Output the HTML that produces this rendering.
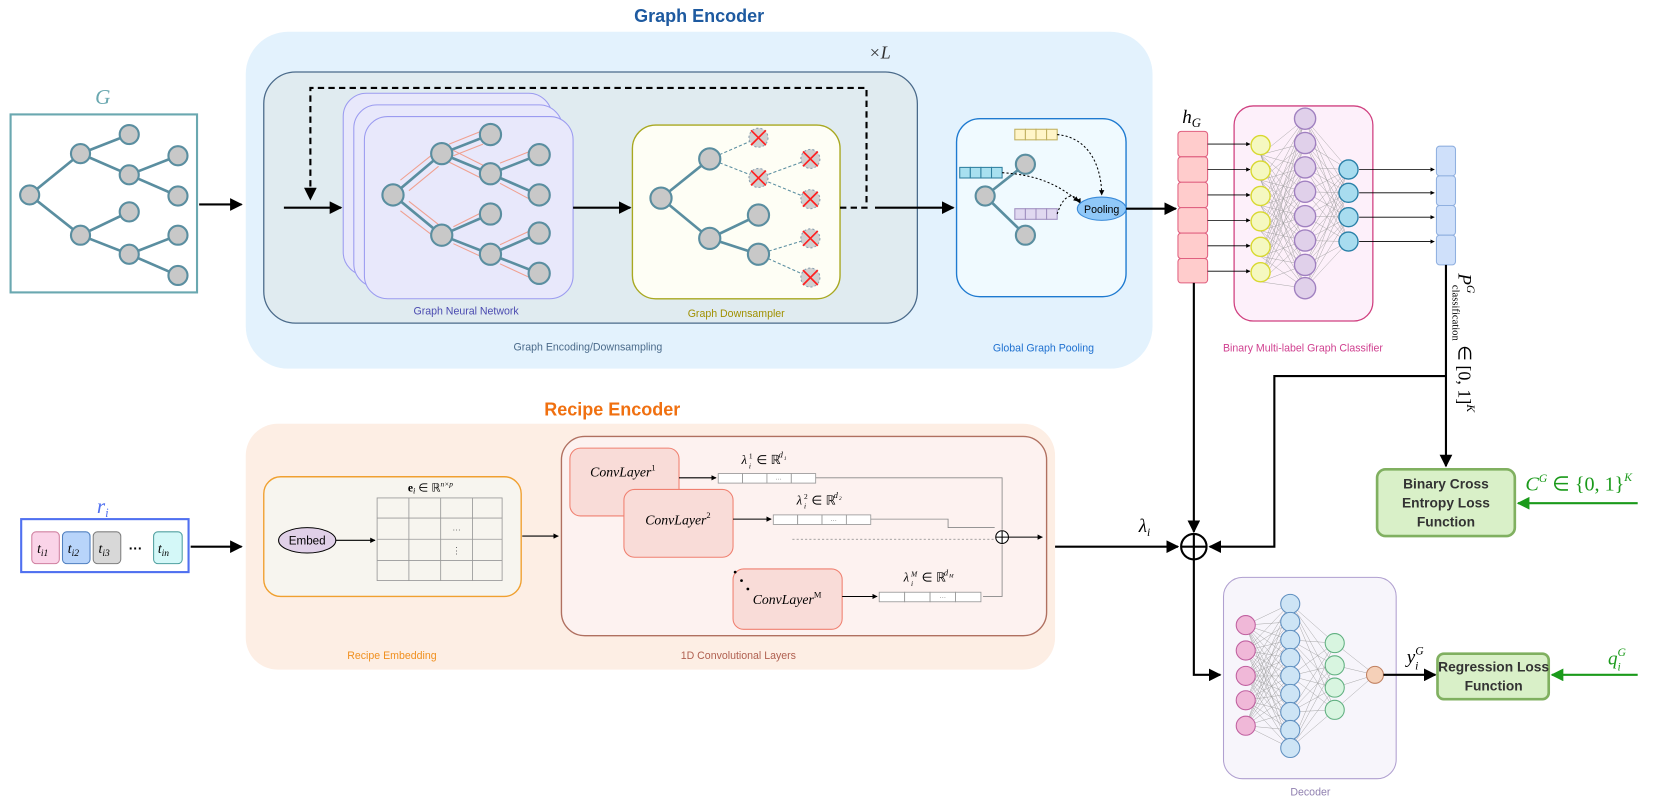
<!DOCTYPE html>
<html><head><meta charset="utf-8"><style>
body{margin:0;background:#fff}
svg{display:block}
.sans{font-family:"Liberation Sans",sans-serif}
.m{font-family:"Liberation Serif",serif;font-style:italic}
</style></head><body>
<svg width="1661" height="802" viewBox="0 0 1568 757" preserveAspectRatio="none" xmlns="http://www.w3.org/2000/svg">
<defs>
<marker id="a" viewBox="0 0 10 10" refX="9" refY="5" markerWidth="6" markerHeight="6" orient="auto"><path d="M0,0L10,5L0,10z" fill="#000"/></marker>
<marker id="as" viewBox="0 0 10 10" refX="9" refY="5" markerWidth="5" markerHeight="5" orient="auto"><path d="M0,0L10,5L0,10z" fill="#000"/></marker>
<marker id="ag" viewBox="0 0 10 10" refX="9" refY="5" markerWidth="6" markerHeight="6" orient="auto"><path d="M0,0L10,5L0,10z" fill="#1a9a1a"/></marker>
</defs>

<!-- Graph Encoder -->
<text x="660" y="21" text-anchor="middle" class="sans" font-weight="bold" font-size="17" fill="#1e5aa0">Graph Encoder</text>
<rect x="232" y="30" width="856" height="318" rx="40" fill="#e3f2fd"/>
<text x="820" y="55" class="m" font-size="17" fill="#333">×L</text>
<rect x="249" y="68" width="617" height="237" rx="30" fill="#e0ebf0" stroke="#4a6a8a" stroke-width="1.2"/>
<rect x="324" y="88" width="197" height="172" rx="22" fill="#e8e8fb" stroke="#9b9bf0"/>
<rect x="334" y="99" width="197" height="172" rx="22" fill="#e8e8fb" stroke="#9b9bf0"/>
<rect x="344" y="110" width="197" height="172" rx="22" fill="#e8e8fb" stroke="#9b9bf0"/>
<text x="440" y="297" text-anchor="middle" class="sans" font-size="10" fill="#4a4ab0">Graph Neural Network</text>
<rect x="597" y="118" width="196" height="164" rx="22" fill="#fefef5" stroke="#a8a820" stroke-width="1.3"/>
<text x="695" y="299" text-anchor="middle" class="sans" font-size="10" fill="#a09000">Graph Downsampler</text>
<text x="555" y="331" text-anchor="middle" class="sans" font-size="10" fill="#4a6a8a">Graph Encoding/Downsampling</text>
<path d="M793,196H818V83H293V188" fill="none" stroke="#000" stroke-width="2" stroke-dasharray="6,4" marker-end="url(#a)"/>
<line x1="268" y1="196" x2="322" y2="196" stroke="#000" stroke-width="2" marker-end="url(#a)"/>
<line x1="541" y1="196" x2="595" y2="196" stroke="#000" stroke-width="2" marker-end="url(#a)"/>
<line x1="826" y1="196" x2="900" y2="196" stroke="#000" stroke-width="2" marker-end="url(#a)"/>

<!-- GNN tree -->
<g stroke="#5a8ea0" stroke-width="2.5">
<line x1="371" y1="184" x2="417" y2="145"/><line x1="371" y1="184" x2="417" y2="222"/>
<line x1="417" y1="145" x2="463" y2="127"/><line x1="417" y1="145" x2="463" y2="164"/>
<line x1="463" y1="164" x2="509" y2="146"/><line x1="463" y1="164" x2="509" y2="184"/>
<line x1="417" y1="222" x2="463" y2="202"/><line x1="417" y1="222" x2="463" y2="240"/>
<line x1="463" y1="240" x2="509" y2="220"/><line x1="463" y1="240" x2="509" y2="258"/>
</g>
<g stroke="#f0a090" stroke-width="1">
<line x1="378" y1="170" x2="408" y2="146"/><line x1="386" y1="180" x2="414" y2="157"/>
<line x1="378" y1="199" x2="408" y2="222"/><line x1="386" y1="190" x2="414" y2="212"/>
<line x1="424" y1="136" x2="454" y2="124"/><line x1="428" y1="147" x2="456" y2="136"/>
<line x1="428" y1="142" x2="456" y2="156"/><line x1="424" y1="153" x2="454" y2="168"/>
<line x1="472" y1="154" x2="500" y2="143"/><line x1="472" y1="173" x2="500" y2="188"/>
<line x1="428" y1="214" x2="456" y2="200"/><line x1="428" y1="230" x2="456" y2="243"/>
<line x1="472" y1="231" x2="500" y2="218"/><line x1="472" y1="249" x2="500" y2="262"/>
</g>
<g fill="#c8c8c8" stroke="#5a8ea0" stroke-width="2">
<circle cx="371" cy="184" r="10"/><circle cx="417" cy="145" r="10"/><circle cx="417" cy="222" r="10"/>
<circle cx="463" cy="127" r="10"/><circle cx="463" cy="164" r="10"/><circle cx="509" cy="146" r="10"/><circle cx="509" cy="184" r="10"/>
<circle cx="463" cy="202" r="10"/><circle cx="463" cy="240" r="10"/><circle cx="509" cy="220" r="10"/><circle cx="509" cy="258" r="10"/>
</g>

<!-- Downsampler tree -->
<g stroke="#5a8ea0" stroke-width="2.5">
<line x1="624" y1="187" x2="670" y2="150"/><line x1="624" y1="187" x2="670" y2="225"/>
<line x1="670" y1="225" x2="716" y2="203"/><line x1="670" y1="225" x2="716" y2="240"/>
</g>
<g stroke="#5a8ea0" stroke-width="1" stroke-dasharray="3,2">
<line x1="670" y1="150" x2="716" y2="130"/><line x1="670" y1="150" x2="716" y2="168"/>
<line x1="716" y1="168" x2="765" y2="150"/><line x1="716" y1="168" x2="765" y2="188"/>
<line x1="716" y1="240" x2="765" y2="225"/><line x1="716" y1="240" x2="765" y2="262"/>
</g>
<g fill="#c8c8c8" stroke="#5a8ea0" stroke-width="2">
<circle cx="624" cy="187" r="10"/><circle cx="670" cy="150" r="10"/><circle cx="670" cy="225" r="10"/>
<circle cx="716" cy="203" r="10"/><circle cx="716" cy="240" r="10"/>
</g>
<g fill="#d0d0d0" stroke="#8aa0b0" stroke-width="1" stroke-dasharray="2,2">
<circle cx="716" cy="130" r="9"/><circle cx="716" cy="168" r="9"/><circle cx="765" cy="150" r="9"/><circle cx="765" cy="188" r="9"/><circle cx="765" cy="225" r="9"/><circle cx="765" cy="262" r="9"/>
</g>
<g stroke="#ff2020" stroke-width="1.6">
<path d="M709,123L723,137M723,123L709,137"/><path d="M709,161L723,175M723,161L709,175"/>
<path d="M758,143L772,157M772,143L758,157"/><path d="M758,181L772,195M772,181L758,195"/>
<path d="M758,218L772,232M772,218L758,232"/><path d="M758,255L772,269M772,255L758,269"/>
</g>

<!-- Pooling -->
<rect x="903" y="112" width="160" height="168" rx="22" fill="#f0faff" stroke="#1e7ad0" stroke-width="1.3"/>
<text x="985" y="332" text-anchor="middle" class="sans" font-size="10" fill="#1e70d0">Global Graph Pooling</text>
<g stroke="#5a8ea0" stroke-width="2.5"><line x1="930" y1="185" x2="968" y2="155"/><line x1="930" y1="185" x2="968" y2="222"/></g>
<g fill="#c8c8c8" stroke="#5a8ea0" stroke-width="2"><circle cx="930" cy="185" r="9"/><circle cx="968" cy="155" r="9"/><circle cx="968" cy="222" r="9"/></g>
<g stroke="#c0b060" fill="#fff5c8"><rect x="958" y="122" width="10" height="10"/><rect x="968" y="122" width="10" height="10"/><rect x="978" y="122" width="10" height="10"/><rect x="988" y="122" width="10" height="10"/></g>
<g stroke="#3080a0" fill="#a8e0f0"><rect x="906" y="158" width="10" height="10"/><rect x="916" y="158" width="10" height="10"/><rect x="926" y="158" width="10" height="10"/><rect x="936" y="158" width="10" height="10"/></g>
<g stroke="#a090c0" fill="#e0d8f0"><rect x="958" y="197" width="10" height="10"/><rect x="968" y="197" width="10" height="10"/><rect x="978" y="197" width="10" height="10"/><rect x="988" y="197" width="10" height="10"/></g>
<g fill="none" stroke="#000" stroke-width="1" stroke-dasharray="2,2">
<path d="M998,127C1030,130 1040,160 1040,184" marker-end="url(#as)"/>
<path d="M946,163C980,165 1000,175 1018,190" marker-end="url(#as)"/>
<path d="M998,202C1005,180 1015,183 1020,192" marker-end="url(#as)"/>
</g>
<ellipse cx="1040" cy="197" rx="23" ry="11" fill="#90c8f8" stroke="#3a8ad8"/>
<text x="1040" y="201" text-anchor="middle" class="sans" font-size="10" fill="#000">Pooling</text>
<line x1="1063" y1="197" x2="1110" y2="197" stroke="#000" stroke-width="2" marker-end="url(#a)"/>

<!-- G -->
<text x="97" y="98" text-anchor="middle" class="m" font-size="20" fill="#6aa8b0">G</text>
<rect x="10" y="108" width="176" height="168" fill="#fff" stroke="#6aa8b0" stroke-width="2"/>
<g stroke="#5a8ea0" stroke-width="2.5">
<line x1="28" y1="184" x2="76" y2="145"/><line x1="28" y1="184" x2="76" y2="222"/>
<line x1="76" y1="145" x2="122" y2="127"/><line x1="76" y1="145" x2="122" y2="165"/>
<line x1="122" y1="165" x2="168" y2="147"/><line x1="122" y1="165" x2="168" y2="185"/>
<line x1="76" y1="222" x2="122" y2="200"/><line x1="76" y1="222" x2="122" y2="240"/>
<line x1="122" y1="240" x2="168" y2="222"/><line x1="122" y1="240" x2="168" y2="260"/>
</g>
<g fill="#c8c8c8" stroke="#5a8ea0" stroke-width="2">
<circle cx="28" cy="184" r="9"/><circle cx="76" cy="145" r="9"/><circle cx="76" cy="222" r="9"/>
<circle cx="122" cy="127" r="9"/><circle cx="122" cy="165" r="9"/><circle cx="168" cy="147" r="9"/><circle cx="168" cy="185" r="9"/>
<circle cx="122" cy="200" r="9"/><circle cx="122" cy="240" r="9"/><circle cx="168" cy="222" r="9"/><circle cx="168" cy="260" r="9"/>
</g>
<line x1="188" y1="193" x2="228" y2="193" stroke="#000" stroke-width="2" marker-end="url(#a)"/>

<!-- hG -->
<text x="1116" y="116" class="m" font-size="18" fill="#000">h<tspan font-size="12" dy="4">G</tspan></text>
<g fill="#ffcccc" stroke="#e06080">
<rect x="1112" y="124" width="28" height="24" rx="3"/><rect x="1112" y="148" width="28" height="24" rx="3"/><rect x="1112" y="172" width="28" height="24" rx="3"/>
<rect x="1112" y="196" width="28" height="24" rx="3"/><rect x="1112" y="220" width="28" height="24" rx="3"/><rect x="1112" y="244" width="28" height="23" rx="3"/>
</g>

<!-- classifier -->
<rect x="1165" y="100" width="131" height="203" rx="18" fill="#fdf0fa" stroke="#d04080" stroke-width="1.2"/>
<text x="1230" y="332" text-anchor="middle" class="sans" font-size="10" fill="#d04090">Binary Multi-label Graph Classifier</text>
<g stroke="#999" stroke-width="0.4">
<path d="M1190,146L1232,112M1190,146L1232,135M1190,146L1232,158M1190,146L1232,181M1190,146L1232,204M1190,146L1232,227M1190,146L1232,250M1190,146L1232,272
M1190,170L1232,112M1190,170L1232,135M1190,170L1232,158M1190,170L1232,181M1190,170L1232,204M1190,170L1232,227M1190,170L1232,250M1190,170L1232,272
M1190,194L1232,112M1190,194L1232,135M1190,194L1232,158M1190,194L1232,181M1190,194L1232,204M1190,194L1232,227M1190,194L1232,250M1190,194L1232,272
M1190,218L1232,112M1190,218L1232,135M1190,218L1232,158M1190,218L1232,181M1190,218L1232,204M1190,218L1232,227M1190,218L1232,250M1190,218L1232,272
M1190,242L1232,112M1190,242L1232,135M1190,242L1232,158M1190,242L1232,181M1190,242L1232,204M1190,242L1232,227M1190,242L1232,250M1190,242L1232,272
M1190,266L1232,112M1190,266L1232,135M1190,266L1232,158M1190,266L1232,181M1190,266L1232,204M1190,266L1232,227M1190,266L1232,250M1190,266L1232,272
M1232,112L1273,160M1232,112L1273,182M1232,112L1273,205M1232,112L1273,228
M1232,135L1273,160M1232,135L1273,182M1232,135L1273,205M1232,135L1273,228
M1232,158L1273,160M1232,158L1273,182M1232,158L1273,205M1232,158L1273,228
M1232,181L1273,160M1232,181L1273,182M1232,181L1273,205M1232,181L1273,228
M1232,204L1273,160M1232,204L1273,182M1232,204L1273,205M1232,204L1273,228
M1232,227L1273,160M1232,227L1273,182M1232,227L1273,205M1232,227L1273,228
M1232,250L1273,160M1232,250L1273,182M1232,250L1273,205M1232,250L1273,228
M1232,272L1273,160M1232,272L1273,182M1232,272L1273,205M1232,272L1273,228"/>
</g>
<g stroke="#000" stroke-width="0.8" marker-end="url(#as)">
<line x1="1140" y1="136" x2="1180" y2="136"/><line x1="1140" y1="160" x2="1180" y2="160"/><line x1="1140" y1="184" x2="1180" y2="184"/>
<line x1="1140" y1="208" x2="1180" y2="208"/><line x1="1140" y1="232" x2="1180" y2="232"/><line x1="1140" y1="256" x2="1180" y2="256"/>
<line x1="1283" y1="160" x2="1354" y2="160"/><line x1="1283" y1="182" x2="1354" y2="182"/><line x1="1283" y1="205" x2="1354" y2="205"/><line x1="1283" y1="228" x2="1354" y2="228"/>
</g>
<g fill="#f5f8c0" stroke="#d8d830" stroke-width="1.3">
<circle cx="1190" cy="137" r="9"/><circle cx="1190" cy="161" r="9"/><circle cx="1190" cy="185" r="9"/><circle cx="1190" cy="209" r="9"/><circle cx="1190" cy="233" r="9"/><circle cx="1190" cy="257" r="9"/>
</g>
<g fill="#e0d0ea" stroke="#a080c0" stroke-width="1.3">
<circle cx="1232" cy="112" r="10"/><circle cx="1232" cy="135" r="10"/><circle cx="1232" cy="158" r="10"/><circle cx="1232" cy="181" r="10"/><circle cx="1232" cy="204" r="10"/><circle cx="1232" cy="227" r="10"/><circle cx="1232" cy="250" r="10"/><circle cx="1232" cy="272" r="10"/>
</g>
<g fill="#a8dcef" stroke="#2a80a8" stroke-width="1.3">
<circle cx="1273" cy="160" r="9"/><circle cx="1273" cy="182" r="9"/><circle cx="1273" cy="205" r="9"/><circle cx="1273" cy="228" r="9"/>
</g>
<g fill="#cfe0fa" stroke="#90b0e0">
<rect x="1356" y="138" width="18" height="28" rx="3"/><rect x="1356" y="166" width="18" height="28" rx="3"/><rect x="1356" y="194" width="18" height="28" rx="3"/><rect x="1356" y="222" width="18" height="28" rx="3"/>
</g>
<text transform="translate(1377,258) rotate(90)" class="m" font-size="18" fill="#000">P<tspan font-size="11" dy="-8">G</tspan><tspan font-size="10" dy="14" font-style="normal" dx="-8">classification</tspan><tspan font-size="17" dy="-6" font-style="normal"> ∈ [0, 1]</tspan><tspan font-size="11" dy="-8">K</tspan></text>

<!-- right connectors -->
<line x1="1365" y1="250" x2="1365" y2="440" stroke="#000" stroke-width="2" marker-end="url(#a)"/>
<path d="M1365,355H1203V516H1142" fill="none" stroke="#000" stroke-width="2" marker-end="url(#a)"/>
<line x1="1127" y1="267" x2="1127" y2="502" stroke="#000" stroke-width="2" marker-end="url(#a)"/>
<circle cx="1127" cy="516" r="12" fill="#fff" stroke="#000" stroke-width="2"/>
<path d="M1115,516H1139M1127,504V528" stroke="#000" stroke-width="2"/>
<path d="M1127,528V637H1152" fill="none" stroke="#000" stroke-width="2" marker-end="url(#a)"/>

<rect x="1300" y="443" width="130" height="63" rx="8" fill="#d9f0c8" stroke="#80b060" stroke-width="2.5"/>
<text text-anchor="middle" class="sans" font-weight="bold" font-size="13" fill="#333"><tspan x="1365" y="461">Binary Cross</tspan><tspan x="1365" y="479">Entropy Loss</tspan><tspan x="1365" y="497">Function</tspan></text>
<text x="1440" y="463" class="m" font-size="19" fill="#1a9a1a">C<tspan font-size="11" dy="-8">G</tspan><tspan font-style="normal" dy="8"> ∈ {0, 1}</tspan><tspan font-size="11" dy="-9">K</tspan></text>
<line x1="1546" y1="475" x2="1433" y2="475" stroke="#1a9a1a" stroke-width="2" marker-end="url(#ag)"/>

<!-- Recipe Encoder -->
<text x="578" y="392" text-anchor="middle" class="sans" font-weight="bold" font-size="17" fill="#f07010">Recipe Encoder</text>
<rect x="232" y="400" width="764" height="232" rx="30" fill="#fdeee4"/>
<rect x="249" y="450" width="243" height="113" rx="16" fill="#f7f5ef" stroke="#f0a030" stroke-width="1.3"/>
<text x="370" y="622" text-anchor="middle" class="sans" font-size="10" fill="#f09020">Recipe Embedding</text>
<ellipse cx="290" cy="510" rx="27" ry="12" fill="#e0d0e8" stroke="#000"/>
<text x="290" y="514" text-anchor="middle" class="sans" font-size="11">Embed</text>
<line x1="317" y1="510" x2="354" y2="510" stroke="#000" marker-end="url(#as)"/>
<g stroke="#999" fill="none" stroke-width="0.8">
<rect x="356" y="470" width="118" height="78"/>
<path d="M386,470V548M416,470V548M446,470V548M356,489H474M356,509H474M356,529H474"/>
</g>
<text x="431" y="503" text-anchor="middle" font-size="8" fill="#666">···</text>
<text x="431" y="523" text-anchor="middle" font-size="9" fill="#666">⋮</text>
<text x="385" y="464" class="m" font-size="11" fill="#000"><tspan font-weight="bold" font-style="normal">e</tspan><tspan font-size="8" dy="2">i</tspan><tspan dy="-2" font-style="normal"> ∈ ℝ</tspan><tspan font-size="7" dy="-5">n×p</tspan></text>
<line x1="493" y1="506" x2="527" y2="506" stroke="#000" stroke-width="1" marker-end="url(#as)"/>

<rect x="530" y="412" width="458" height="188" rx="22" fill="#fdf2f0" stroke="#b07060" stroke-width="1.3"/>
<text x="697" y="622" text-anchor="middle" class="sans" font-size="10" fill="#b06050">1D Convolutional Layers</text>
<rect x="538" y="423" width="103" height="64" rx="10" fill="#f9dcd8" stroke="#f08070"/>
<text x="588" y="450" text-anchor="middle" class="m" font-size="13">ConvLayer<tspan font-size="8" dy="-6" font-style="normal">1</tspan></text>
<rect x="589" y="462" width="103" height="64" rx="10" fill="#f9dcd8" stroke="#f08070"/>
<text x="640" y="495" text-anchor="middle" class="m" font-size="13">ConvLayer<tspan font-size="8" dy="-6" font-style="normal">2</tspan></text>
<rect x="692" y="537" width="103" height="57" rx="10" fill="#f9dcd8" stroke="#f08070"/>
<text x="743" y="570" text-anchor="middle" class="m" font-size="13">ConvLayer<tspan font-size="8" dy="-6" font-style="normal">M</tspan></text>
<circle cx="694" cy="540" r="1.3"/><circle cx="700" cy="548" r="1.3"/><circle cx="706" cy="556" r="1.3"/>

<g stroke="#000" stroke-width="1" marker-end="url(#as)">
<line x1="641" y1="451" x2="676" y2="451"/><line x1="692" y1="490" x2="728" y2="490"/><line x1="795" y1="563" x2="828" y2="563"/>
</g>
<g stroke="#999" fill="#fff" stroke-width="0.8">
<rect x="678" y="447" width="23" height="9"/><rect x="701" y="447" width="23" height="9"/><rect x="724" y="447" width="23" height="9"/><rect x="747" y="447" width="23" height="9"/>
<rect x="730" y="486" width="23" height="9"/><rect x="753" y="486" width="23" height="9"/><rect x="776" y="486" width="23" height="9"/><rect x="799" y="486" width="23" height="9"/>
<rect x="830" y="559" width="24" height="9"/><rect x="854" y="559" width="24" height="9"/><rect x="878" y="559" width="24" height="9"/><rect x="902" y="559" width="24" height="9"/>
</g>
<g font-size="6" fill="#666" text-anchor="middle"><text x="735" y="454">···</text><text x="787" y="493">···</text><text x="890" y="566">···</text></g>
<g class="m" font-size="12" fill="#000">
<text x="700" y="438">λ</text><text x="707" y="433" font-size="7" font-style="normal">1</text><text x="707" y="442" font-size="7">i</text>
<text x="714" y="438" font-style="normal">∈ ℝ</text><text x="735" y="432" font-size="8">d</text><text x="740" y="434" font-size="5">1</text>
<text x="752" y="476">λ</text><text x="759" y="471" font-size="7" font-style="normal">2</text><text x="759" y="480" font-size="7">i</text>
<text x="766" y="476" font-style="normal">∈ ℝ</text><text x="787" y="470" font-size="8">d</text><text x="792" y="472" font-size="5">2</text>
<text x="853" y="549">λ</text><text x="860" y="544" font-size="7">M</text><text x="860" y="553" font-size="7">i</text>
<text x="870" y="549" font-style="normal">∈ ℝ</text><text x="891" y="543" font-size="8">d</text><text x="896" y="545" font-size="5">M</text>
</g>
<g fill="none" stroke="#888" stroke-width="0.8">
<path d="M770,451H946V500"/><path d="M822,490H895V498H939"/><path d="M928,563H946V514"/>
</g>
<line x1="748" y1="509" x2="938" y2="509" stroke="#888" stroke-width="0.8" stroke-dasharray="2,2"/>
<circle cx="946" cy="507" r="6" fill="#fff" stroke="#000"/>
<path d="M940,507H952M946,501V513" stroke="#000"/>
<line x1="952" y1="507" x2="984" y2="507" stroke="#000" stroke-width="1" marker-end="url(#as)"/>

<line x1="996" y1="516" x2="1112" y2="516" stroke="#000" stroke-width="2" marker-end="url(#a)"/>
<text x="1075" y="502" class="m" font-size="18">λ<tspan font-size="11" dy="4">i</tspan></text>

<!-- r_i -->
<text x="97" y="484" text-anchor="middle" class="m" font-size="20" fill="#5070f0">r<tspan font-size="12" dy="4">i</tspan></text>
<rect x="20" y="490" width="158" height="50" fill="#fff" stroke="#5070f0" stroke-width="2"/>
<rect x="30" y="502" width="26" height="30" rx="4" fill="#fad4e8" stroke="#d080a0"/>
<rect x="59" y="502" width="26" height="30" rx="4" fill="#b8d4fa" stroke="#5080c0"/>
<rect x="88" y="502" width="26" height="30" rx="4" fill="#d8d8d8" stroke="#808080"/>
<rect x="145" y="502" width="27" height="30" rx="4" fill="#d4f8f8" stroke="#50a0a0"/>
<g class="m" font-size="13"><text x="35" y="522">t<tspan font-size="9" dy="3">i1</tspan></text><text x="64" y="522">t<tspan font-size="9" dy="3">i2</tspan></text><text x="93" y="522">t<tspan font-size="9" dy="3">i3</tspan></text><text x="149" y="522">t<tspan font-size="9" dy="3">in</tspan></text></g>
<text x="128" y="522" text-anchor="middle" class="sans" font-weight="bold" font-size="13">···</text>
<line x1="180" y1="516" x2="228" y2="516" stroke="#000" stroke-width="2" marker-end="url(#a)"/>

<!-- Decoder -->
<rect x="1155" y="545" width="163" height="190" rx="18" fill="#f7f5fb" stroke="#b0a0d0"/>
<text x="1237" y="751" text-anchor="middle" class="sans" font-size="10" fill="#9080b0">Decoder</text>
<g stroke="#999" stroke-width="0.4">
<path d="M1176,590L1218,570M1176,590L1218,587M1176,590L1218,604M1176,590L1218,621M1176,590L1218,638M1176,590L1218,655M1176,590L1218,672M1176,590L1218,689M1176,590L1218,706
M1176,614L1218,570M1176,614L1218,587M1176,614L1218,604M1176,614L1218,621M1176,614L1218,638M1176,614L1218,655M1176,614L1218,672M1176,614L1218,689M1176,614L1218,706
M1176,638L1218,570M1176,638L1218,587M1176,638L1218,604M1176,638L1218,621M1176,638L1218,638M1176,638L1218,655M1176,638L1218,672M1176,638L1218,689M1176,638L1218,706
M1176,661L1218,570M1176,661L1218,587M1176,661L1218,604M1176,661L1218,621M1176,661L1218,638M1176,661L1218,655M1176,661L1218,672M1176,661L1218,689M1176,661L1218,706
M1176,685L1218,570M1176,685L1218,587M1176,685L1218,604M1176,685L1218,621M1176,685L1218,638M1176,685L1218,655M1176,685L1218,672M1176,685L1218,689M1176,685L1218,706
M1218,570L1260,607M1218,570L1260,628M1218,570L1260,649M1218,570L1260,670
M1218,604L1260,607M1218,604L1260,628M1218,604L1260,649M1218,604L1260,670
M1218,638L1260,607M1218,638L1260,628M1218,638L1260,649M1218,638L1260,670
M1218,672L1260,607M1218,672L1260,628M1218,672L1260,649M1218,672L1260,670
M1218,706L1260,607M1218,706L1260,628M1218,706L1260,649M1218,706L1260,670
M1260,607L1298,637M1260,628L1298,637M1260,649L1298,637M1260,670L1298,637"/>
</g>
<g fill="#f0b8d8" stroke="#c060a0"><circle cx="1176" cy="590" r="9"/><circle cx="1176" cy="614" r="9"/><circle cx="1176" cy="638" r="9"/><circle cx="1176" cy="661" r="9"/><circle cx="1176" cy="685" r="9"/></g>
<g fill="#cde4f5" stroke="#6090c0"><circle cx="1218" cy="570" r="9"/><circle cx="1218" cy="587" r="9"/><circle cx="1218" cy="604" r="9"/><circle cx="1218" cy="621" r="9"/><circle cx="1218" cy="638" r="9"/><circle cx="1218" cy="655" r="9"/><circle cx="1218" cy="672" r="9"/><circle cx="1218" cy="689" r="9"/><circle cx="1218" cy="706" r="9"/></g>
<g fill="#d8f5e0" stroke="#60b080"><circle cx="1260" cy="607" r="9"/><circle cx="1260" cy="628" r="9"/><circle cx="1260" cy="649" r="9"/><circle cx="1260" cy="670" r="9"/></g>
<circle cx="1298" cy="637" r="8" fill="#f5d0b8" stroke="#c08060"/>
<line x1="1306" y1="637" x2="1355" y2="637" stroke="#000" stroke-width="2" marker-end="url(#a)"/>
<text x="1328" y="626" class="m" font-size="18">y<tspan font-size="11" dy="-8">G</tspan><tspan font-size="11" dy="14" dx="-8">i</tspan></text>

<rect x="1357" y="617" width="105" height="43" rx="6" fill="#d9f0c8" stroke="#80b060" stroke-width="2.5"/>
<text text-anchor="middle" class="sans" font-weight="bold" font-size="13" fill="#333"><tspan x="1410" y="634">Regression Loss</tspan><tspan x="1410" y="652">Function</tspan></text>
<text x="1518" y="627" class="m" font-size="18" fill="#1a9a1a">q<tspan font-size="11" dy="-8">G</tspan><tspan font-size="11" dy="14" dx="-8">i</tspan></text>
<line x1="1546" y1="637" x2="1465" y2="637" stroke="#1a9a1a" stroke-width="2" marker-end="url(#ag)"/>
</svg>
</body></html>
